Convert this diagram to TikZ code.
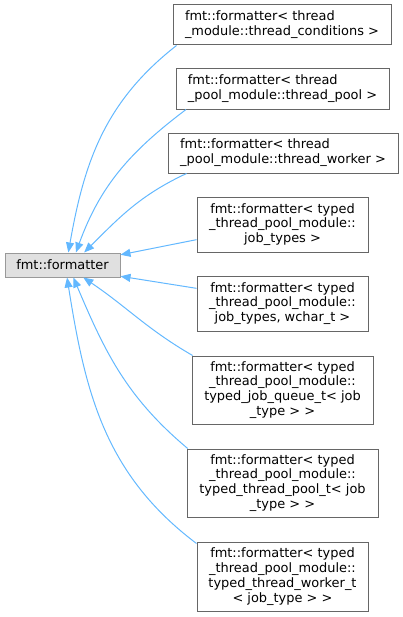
\documentclass[tikz,border=0pt]{standalone}
\usepackage{fontspec}
\setmainfont{DejaVu Sans}
\usetikzlibrary{arrows.meta,positioning}
\definecolor{edgeblue}{HTML}{63B8FF}
\definecolor{boxline}{HTML}{666666}
\definecolor{baseline}{HTML}{999999}
\definecolor{basefill}{HTML}{E0E0E0}

\begin{document}
\begin{tikzpicture}[x=0.75pt, y=-0.75pt,
          every node/.style={font=\fontsize{9.7}{11.1}\selectfont},
          cls/.style={rectangle, draw=boxline, fill=white, line width=0.75pt, inner sep=2pt},
          basecls/.style={cls, draw=baseline, fill=basefill},
          inh/.style={draw=edgeblue, line width=0.75pt, -{Triangle[length=7.5pt, width=6pt]}}]
        \useasboundingbox (0,0) rectangle (403,617);
        \node[basecls, minimum width=86.25pt, minimum height=18pt] (base) at (62.5,265) {fmt::formatter};
        \node[cls, align=left, minimum width=163.5pt, minimum height=30pt] (D1) at (282,25)
            {fmt::formatter< thread\\\_module::thread\_conditions >};
        \node[cls, align=left, minimum width=159.75pt, minimum height=30pt] (D2) at (282.5,89)
            {fmt::formatter< thread\\\_pool\_module::thread\_pool >};
        \node[cls, align=left, minimum width=172.5pt, minimum height=30pt] (D3) at (283,153)
            {fmt::formatter< thread\\\_pool\_module::thread\_worker >};
        \node[cls, align=center, minimum width=128.25pt, minimum height=41.25pt] (D4) at (282.5,224.5)
            {fmt::formatter< typed\\\_thread\_pool\_module::\\job\_types >};
        \node[cls, align=center, minimum width=128.25pt, minimum height=41.25pt] (D5) at (282.5,303.5)
            {fmt::formatter< typed\\\_thread\_pool\_module::\\job\_types, wchar\_t >};
        \node[cls, align=center, minimum width=135.75pt, minimum height=51pt] (D6) at (282.5,390)
            {fmt::formatter< typed\\\_thread\_pool\_module::\\typed\_job\_queue\_t< job\\\_type > >};
        \node[cls, align=center, minimum width=143.25pt, minimum height=51pt] (D7) at (282.5,483)
            {fmt::formatter< typed\\\_thread\_pool\_module::\\typed\_thread\_pool\_t< job\\\_type > >};
        \node[cls, align=center, minimum width=128.25pt, minimum height=51.75pt] (D8) at (282.5,576.5)
            {fmt::formatter< typed\\\_thread\_pool\_module::\\typed\_thread\_worker\_t\\< job\_type > >};
        % inheritance edges: derived anchor / base anchor / out / in
        \foreach \d/\s/\t/\o/\i in {D1/191.6/65.4/218/80, D2/192/43.8/217/70, D3/192.8/30.3/205/45,
                                    D6/159/329.7/150/-34, D7/160.4/311.2/140/-67, D8/159.8/290.6/143/-81}
            \draw[inh] (\d.\s) to[out=\o, in=\i] (base.\t);
        \draw[inh] (D4.190.9) -- (base.10.8);
        \draw[inh] (D5.170.4) -- (base.349.2);
      \end{tikzpicture}
\end{document}
